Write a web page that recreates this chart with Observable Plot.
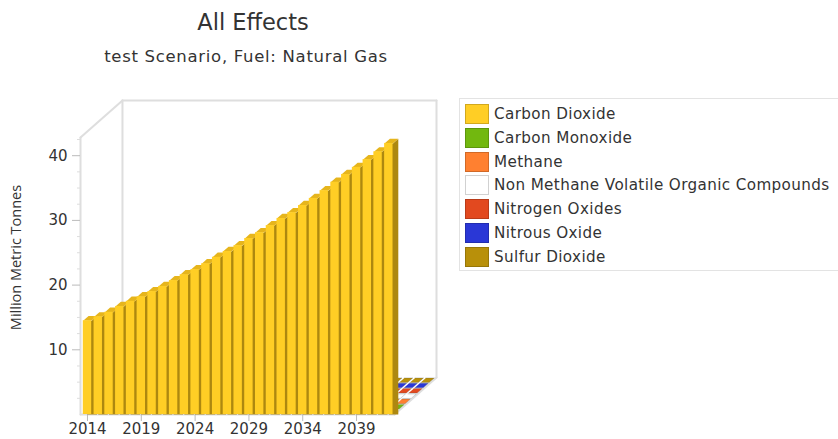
<!DOCTYPE html>
<html>
<head>
<meta charset="utf-8">
<script src="https://cdn.jsdelivr.net/npm/d3@7"></script>
<script src="https://cdn.jsdelivr.net/npm/@observablehq/plot@0.6"></script>
<style>
html,body{margin:0;padding:0;background:#fff;overflow:hidden}
#page{position:relative;width:838px;height:439px;font-family:"DejaVu Sans",sans-serif;color:#333}
#title{position:absolute;left:0;width:506px;top:8px;text-align:center;font-size:22.5px;line-height:28px}
#subtitle{position:absolute;left:0;width:492px;top:46px;text-align:center;font-size:16.5px;line-height:22px;letter-spacing:.7px}
#chart{position:absolute;left:0;top:85px}
#legend{position:absolute;left:459px;top:98px;width:379px;height:173px;box-sizing:border-box;border:1px solid #e3e3e3;border-right:none;padding-top:3px}
.row{display:flex;align-items:center;height:23.85px;font-size:15.2px;letter-spacing:.38px;padding-left:5px;white-space:nowrap}
.sw{width:22px;height:18px;border:1px solid rgba(0,0,0,.18);margin-right:5px;flex:none}
</style>
</head>
<body>
<div id="page">
<div id="title">All Effects</div>
<div id="subtitle">test Scenario, Fuel: Natural Gas</div>
<div id="chart"></div>
<div id="legend"></div>
</div>
<script>
const seriesNames = ["Carbon Dioxide","Carbon Monoxide","Methane","Non Methane Volatile Organic Compounds","Nitrogen Oxides","Nitrous Oxide","Sulfur Dioxide"];
const seriesColors = ["#ffce25","#72b80f","#ff8030","#ffffff","#e2491f","#2a37d6","#b8900a"];
const years = [2014,2015,2016,2017,2018,2019,2020,2021,2022,2023,2024,2025,2026,2027,2028,2029,2030,2031,2032,2033,2034,2035,2036,2037,2038,2039,2040,2041,2042];
const carbonDioxide = [14.5,15.1,15.8,16.7,17.5,18.2,19.0,19.8,20.7,21.6,22.4,23.3,24.3,25.2,26.1,27.2,28.1,29.2,30.3,31.2,32.3,33.4,34.6,35.9,37.1,38.2,39.4,40.6,41.9];
// the other effects are all close to zero in every year
const otherLevels = [0.02,0.03,0.01,0.03,0.02,0.03];
const tickYears = [2014,2019,2024,2029,2034,2039];
const majorTicks = [10,20,30,40];
const minorTicks = [2.5,5,7.5,12.5,15,17.5,22.5,25,27.5,32.5,35,37.5,42.5];

const depthX = 3.9, depthY = 5.72, barHalf = 0.39;
const xDomain = [2013.35, 2046.43], yDomain = [0, 48.53];
const rowDepth = 1 / seriesNames.length;
const topY = yDomain[1] - depthY, rightX = xDomain[1] - depthX;
const p = (x, v, d) => ({x: x + d * depthX, y: v + d * depthY});

function topFace(id, series, year, v, row) {
  const d0 = (row + 0.02) * rowDepth, d1 = (row + 0.88) * rowDepth;
  return [[year-barHalf,d0],[year+barHalf,d0],[year+barHalf,d1],[year-barHalf,d1]]
    .map(([x,d]) => ({...p(x,v,d), id, series}));
}
function sideFace(id, year, v) {
  const d1 = 0.88 * rowDepth, x0 = year, x1 = year + barHalf + d1 * depthX;
  return [{x:x0,y:0},{x:x0,y:v},{x:year+barHalf,y:v},{x:x1,y:v+d1*depthY},{x:x1,y:0}].map(q => ({...q, id}));
}
const floorTops = [];
for (let r = seriesNames.length - 1; r >= 1; r--)
  years.forEach(y => floorTops.push(...topFace(`${r}-${y}`, seriesNames[r], y, otherLevels[r-1], r)));
const co2 = years.map((year,i) => ({year, value: carbonDioxide[i], series: seriesNames[0]}));
const co2Sides = co2.flatMap(d => sideFace(d.year, d.year, d.value));
const co2Tops = co2.flatMap(d => topFace(d.year, d.series, d.year, d.value, 0));

const wallColor = "#dedede";
const edge = (a, b) => Plot.line([a,b], {x:"x", y:"y", stroke:wallColor, strokeWidth:2});

const chart = Plot.plot({
  width: 459, height: 354,
  marginLeft: 80, marginRight: 23, marginTop: 15, marginBottom: 25,
  style: {fontFamily: '"DejaVu Sans",sans-serif', background: "transparent", color: "#333"},
  x: {type:"linear", domain: xDomain, axis: null},
  y: {type:"linear", domain: yDomain, axis: null},
  color: {domain: seriesNames, range: seriesColors},
  marks: [
    edge({x:xDomain[0]+depthX,y:depthY},{x:xDomain[0]+depthX,y:yDomain[1]}),
    edge({x:xDomain[0]+depthX,y:yDomain[1]},{x:xDomain[1],y:yDomain[1]}),
    edge({x:xDomain[1],y:yDomain[1]},{x:xDomain[1],y:depthY}),
    edge({x:xDomain[0],y:topY},{x:xDomain[0]+depthX,y:yDomain[1]}),
    edge({x:xDomain[0],y:0},{x:xDomain[0],y:topY}),
    edge({x:xDomain[0],y:0},{x:rightX,y:0}),
    edge({x:rightX,y:0},{x:xDomain[1],y:depthY}),
    Plot.axisY({ticks: minorTicks, tickSize:3, tickFormat:()=>"", stroke:"#ddd", label:null, anchor:"left"}),
    Plot.axisY({ticks: majorTicks, tickSize:8, tickPadding:5, stroke:"#bbb", label:null, anchor:"left", fontSize:15, fill:"#333"}),
    Plot.axisX({ticks: tickYears, tickSize:7, tickPadding:2, tickFormat:"d", stroke:"#bbb", label:null, anchor:"bottom", fontSize:15, fill:"#333"}),
    Plot.line(floorTops, {x:"x", y:"y", z:"id", fill:"series", stroke:"#555", strokeWidth:0.5, strokeOpacity:0.5}),
    Plot.line(co2Sides, {x:"x", y:"y", z:"id", fill:"#ad8810", stroke:"none"}),
    Plot.line(co2Tops, {x:"x", y:"y", z:"id", fill:"#e6b51c", stroke:"none"}),
    Plot.rectY(co2, {x1:d=>d.year-barHalf, x2:d=>d.year+barHalf, y1:0, y2:"value", fill:"series"}),
    Plot.text(["Million Metric Tonnes"], {frameAnchor:"left", textAnchor:"middle", rotate:-90, dx:-64, dy:0, fontSize:14.5, fontFamily:'"Open Sans",sans-serif', fill:"#333"})
  ]
});
document.getElementById("chart").append(chart);
const legend = document.getElementById("legend");
seriesNames.forEach((n,i) => {
  const r = document.createElement("div"); r.className = "row";
  const s = document.createElement("div"); s.className = "sw"; s.style.background = seriesColors[i];
  r.append(s, document.createTextNode(n)); legend.append(r);
});
</script>
</body>
</html>
